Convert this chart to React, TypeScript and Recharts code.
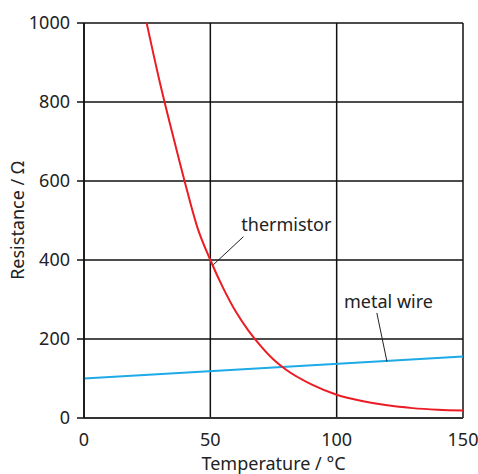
import { LineChart, Line, XAxis, YAxis, CartesianGrid, ReferenceLine, ReferenceDot } from "recharts"

const temperatures = [24.8, 30, 35, 40, 45, 50, 55, 60, 65, 70, 75, 80, 90, 100, 110, 120, 130, 140, 150]
const thermistorValues = [1000, 850, 720, 595, 480, 400, 330, 270, 222, 182, 148, 122, 85, 59, 43, 32, 25, 21, 19]

const wireTemps = [0, 150]
const wireValues = [100, 156]

const xTicks = [0, 50, 100, 150]
const yTicks = [0, 200, 400, 600, 800, 1000]

const thermistor = temperatures.map((t, i) => ({ t, r: thermistorValues[i] }))
const wire = wireTemps.map((t, i) => ({ t, r: wireValues[i] }))

const FONT = "'Noto Sans', sans-serif"
const tickStyle = { fontSize: 18, fill: "#222", fontFamily: FONT }

export default function App() {
  return (
    <div style={{ position: "absolute", left: 0, top: 0 }}>
      <LineChart width={478} height={474} margin={{ top: 23, right: 15, left: 0, bottom: 0 }}>
        <CartesianGrid stroke="#111" strokeWidth={1.5} />
        <XAxis
          type="number"
          dataKey="t"
          domain={[0, 150]}
          ticks={xTicks}
          height={56}
          tickLine={false}
          tickSize={0}
          tickMargin={15}
          axisLine={{ stroke: "#333", strokeWidth: 2 }}
          tick={tickStyle}
          label={{ value: "Temperature / °C", position: "insideBottom", offset: 4, style: tickStyle }}
        />
        <YAxis
          type="number"
          domain={[0, 1000]}
          ticks={yTicks}
          width={84}
          tickSize={7}
          tickMargin={7}
          tickLine={{ stroke: "#111", strokeWidth: 1.5 }}
          axisLine={{ stroke: "#111", strokeWidth: 1.5 }}
          tick={tickStyle}
          label={{ value: "Resistance / Ω", angle: -90, position: "center", dx: -24, style: tickStyle }}
        />
        <Line data={wire} dataKey="r" type="linear" stroke="#1eaae7" strokeWidth={2} dot={false} isAnimationActive={false} />
        <Line data={thermistor} dataKey="r" type="monotone" stroke="#ec1c24" strokeWidth={2} dot={false} isAnimationActive={false} />
        <ReferenceLine segment={[{ x: 63.1, y: 459 }, { x: 51.2, y: 388 }]} stroke="#222" strokeWidth={1} />
        <ReferenceLine segment={[{ x: 115.9, y: 266 }, { x: 119.9, y: 143 }]} stroke="#222" strokeWidth={1} />
        <ReferenceDot x={80.1} y={489} r={0} stroke="none" label={{ value: "thermistor", position: "center", style: tickStyle }} />
        <ReferenceDot x={120.5} y={294} r={0} stroke="none" label={{ value: "metal wire", position: "center", style: tickStyle }} />
      </LineChart>
    </div>
  )
}
